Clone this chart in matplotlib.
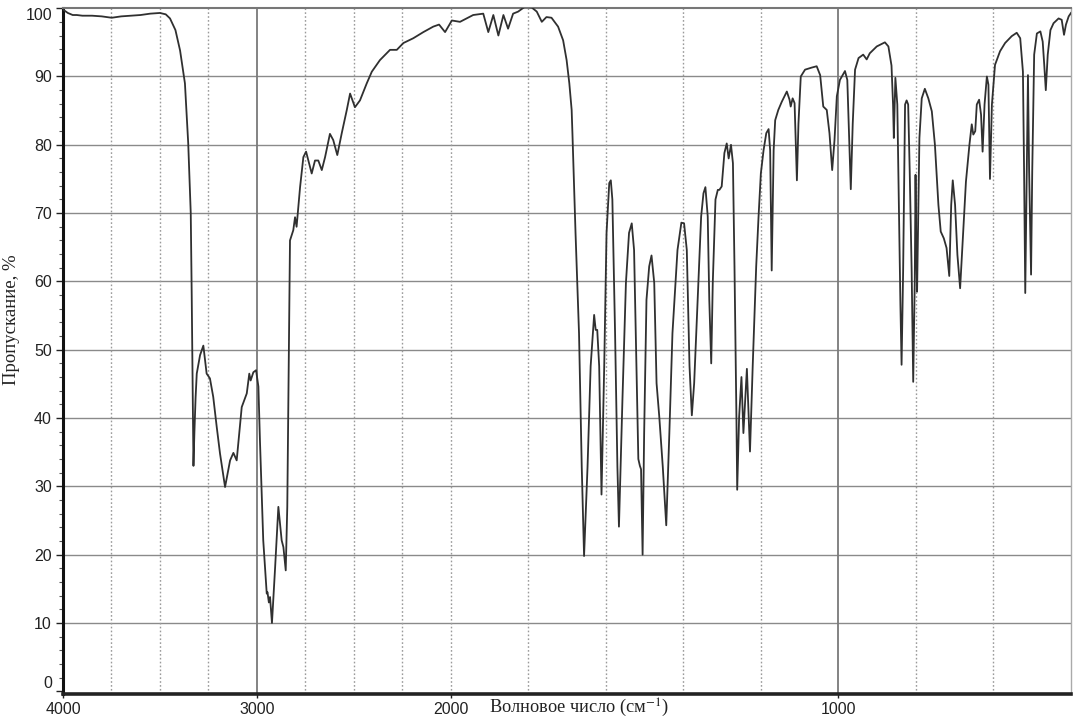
import numpy as np
import matplotlib
matplotlib.use("Agg")
import matplotlib.pyplot as plt

plt.rcParams['mathtext.fontset'] = 'stix'

# ---- data ----
wavenumber = [
    4000, 3975, 3950, 3929, 3900, 3850, 3800, 3749, 3700, 3650, 3600, 3550, 3500,
    3470, 3448, 3420, 3396, 3371, 3354, 3341, 3336, 3331, 3327, 3322, 3316, 3310,
    3293, 3276, 3259, 3242, 3225, 3207, 3190, 3164, 3138, 3121, 3104, 3078, 3052,
    3039, 3032, 3018, 3004, 2992, 2984, 2967, 2949, 2945, 2938, 2932, 2922, 2906,
    2889, 2872, 2863, 2851, 2843, 2835, 2829, 2812, 2803, 2795, 2777, 2760, 2746,
    2734, 2717, 2700, 2683, 2665, 2648, 2623, 2606, 2585, 2562, 2536, 2519, 2494,
    2468, 2433, 2407, 2365, 2313, 2278, 2244, 2193, 2141, 2090, 2060, 2029, 1997,
    1976, 1942, 1916, 1903, 1890, 1877, 1864, 1852, 1839, 1826, 1809, 1791, 1778,
    1765, 1753, 1740, 1723, 1710, 1701, 1694, 1688, 1686, 1678, 1669, 1662, 1656,
    1647, 1639, 1630, 1626, 1622, 1617, 1611, 1604, 1598, 1591, 1587, 1583, 1576,
    1570, 1566, 1557, 1548, 1540, 1533, 1527, 1521, 1516, 1512, 1509, 1505, 1501,
    1495, 1488, 1482, 1475, 1469, 1462, 1453, 1444, 1436, 1428, 1415, 1405, 1398,
    1391, 1384, 1378, 1372, 1363, 1354, 1348, 1343, 1337, 1333, 1328, 1324, 1317,
    1311, 1307, 1301, 1294, 1288, 1283, 1277, 1272, 1268, 1263, 1261, 1256, 1250,
    1245, 1236, 1228, 1221, 1212, 1206, 1200, 1193, 1186, 1180, 1176, 1172, 1167,
    1163, 1155, 1146, 1133, 1126, 1123, 1118, 1113, 1107, 1103, 1097, 1086, 1069,
    1056, 1047, 1039, 1030, 1023, 1016, 1010, 1004, 996, 983, 977, 972, 968, 963,
    957, 948, 936, 927, 919, 901, 880, 871, 863, 859, 857, 853, 848, 844, 840, 837,
    833, 828, 824, 820, 816, 811, 807, 803, 801, 799, 797, 794, 791, 785, 777, 768,
    759, 751, 742, 736, 728, 721, 714, 709, 705, 699, 693, 686, 679, 671, 662, 656,
    652, 647, 643, 637, 632, 628, 623, 617, 613, 609, 604, 596, 583, 570, 553, 540,
    531, 524, 521, 518, 514, 511, 508, 503, 500, 495, 488, 479, 473, 469, 465, 460,
    453, 445, 432, 424, 418, 413, 406, 400,
]
transmittance = [
    99.8, 99.3, 99.0, 99.0, 98.9, 98.9, 98.8, 98.6, 98.8, 98.9, 99.0, 99.2, 99.3,
    99.1, 98.5, 96.8, 93.8, 89.0, 80.2, 70.0, 58.0, 44.0, 33.0, 38.0, 43.0, 46.5,
    49.2, 50.6, 46.5, 45.8, 43.1, 38.7, 34.8, 29.9, 33.8, 34.9, 33.8, 41.6, 43.6,
    46.5, 45.5, 46.7, 47.0, 44.6, 36.7, 22.1, 14.3, 14.5, 13.0, 13.8, 10.0, 18.0,
    27.0, 22.1, 21.1, 17.7, 27.0, 50.0, 66.0, 67.5, 69.4, 68.0, 73.8, 78.2, 79.0,
    77.7, 75.8, 77.7, 77.7, 76.3, 78.2, 81.6, 80.7, 78.5, 81.7, 85.1, 87.5, 85.5,
    86.5, 89.0, 90.7, 92.4, 93.9, 93.9, 94.9, 95.6, 96.5, 97.3, 97.6, 96.5, 98.2,
    98.0, 99.0, 99.2, 96.5, 99.0, 96.0, 99.0, 97.0, 99.2, 99.5, 100.2, 100.1, 99.5,
    98.0, 98.7, 98.6, 97.3, 95.3, 92.4, 89.0, 85.1, 81.7, 67.1, 52.4, 32.9, 19.8,
    32.9, 47.6, 55.1, 52.9, 52.9, 47.6, 28.8, 47.6, 67.1, 74.4, 74.8, 72.0, 52.4,
    32.9, 24.1, 42.7, 59.8, 67.1, 68.5, 64.6, 47.6, 34.0, 33.0, 32.5, 20.0, 37.8,
    57.3, 62.2, 63.8, 59.8, 45.1, 40.2, 32.9, 24.3, 37.8, 52.4, 64.6, 68.6, 68.5,
    64.6, 47.6, 40.4, 45.1, 57.3, 69.5, 72.9, 73.8, 69.5, 57.3, 48.0, 59.8, 72.0,
    73.4, 73.4, 73.9, 78.8, 80.2, 78.0, 80.0, 77.3, 62.2, 40.2, 29.5, 40.2, 46.0,
    37.8, 47.2, 35.1, 47.6, 62.2, 69.4, 75.8, 79.2, 81.7, 82.3, 79.2, 61.6, 79.2,
    83.6, 85.1, 86.3, 87.8, 86.6, 85.6, 86.8, 86.1, 74.8, 83.1, 90.0, 91.0, 91.3,
    91.5, 90.2, 85.6, 85.1, 81.7, 76.3, 80.7, 87.1, 89.5, 90.8, 89.5, 80.7, 73.5, 83.1,
    91.0, 92.7, 93.2, 92.5, 93.4, 94.4, 95.0, 94.4, 91.6, 85.9, 81.0, 89.8, 85.9, 71.2, 56.6, 47.8,
    61.5, 85.9, 86.5, 85.9, 76.1, 61.5, 45.3, 60.0, 75.6, 65.0, 58.5, 70.0, 81.0, 86.8, 88.2, 86.8,
    84.9, 80.0, 71.2, 67.3, 66.3, 64.9, 60.8, 71.2, 74.8, 71.2, 63.9, 59.0, 66.3, 74.6, 80.0, 83.0,
    81.5, 82.0, 85.9, 86.6, 84.4, 79.0, 85.9, 90.0, 88.8, 75.0, 85.9, 91.7, 93.7, 94.9, 95.9, 96.4,
    95.6, 90.7, 76.1, 58.3, 76.1, 90.2, 76.1, 61.0, 76.1, 93.2, 96.3, 96.6, 95.1, 91.7, 88.0, 93.2,
    96.8, 97.8, 98.5, 98.3, 96.1, 97.6, 98.8, 99.3,
]
x_tick_values = [4000, 3000, 2000, 1000]
y_tick_values = list(range(0, 101, 10))
grid_dotted = [3750, 3500, 3250, 2750, 2500, 2250, 2000, 1800, 1600, 1400, 1200, 800, 600]
grid_solid = [3000, 1000]

x_label = 'Волновое число (см$^{-1}$)'
y_label = 'Пропускание, %'


# piecewise x scale: 2000-400 cm-1 is drawn at twice the density of 4000-2000
def fwd(x):
    x = np.asarray(x, dtype=float)
    return np.where(x >= 2000, x, 2.0 * x - 2000.0)


def inv(y):
    y = np.asarray(y, dtype=float)
    return np.where(y >= 2000, y, (y + 2000.0) / 2.0)


fig = plt.figure(figsize=(10.78, 7.2), dpi=100)
ax = fig.add_axes([63 / 1078, 1 - 694 / 720, (1071 - 63) / 1078, (694 - 7.5) / 720])
ax.set_xscale('function', functions=(fwd, inv))
ax.set_xlim(4000, 400)
ax.set_ylim(-0.4, 100.1)

# grid
for v in y_tick_values[1:-1]:
    ax.axhline(v, color='#8a8a8a', lw=1.0, zorder=1)
for v in grid_dotted:
    ax.axvline(v, color='#9a9a9a', lw=1.0, ls=(0, (1.2, 1.6)), zorder=1)
for v in grid_solid:
    ax.axvline(v, color='#7a7a7a', lw=1.3, zorder=1)

ax.plot(wavenumber, transmittance, color='#303030', lw=1.3, zorder=3,
        solid_joinstyle='round')

# ticks
ax.set_xticks(x_tick_values)
ax.set_xticklabels([str(v) for v in x_tick_values], family='Liberation Sans', fontsize=11.5)
ax.set_yticks(y_tick_values)
ax.set_yticklabels([str(v) for v in y_tick_values], family='Liberation Sans', fontsize=11.5)
ax.set_yticks(list(range(0, 101, 2)), minor=True)
ax.xaxis.set_minor_locator(matplotlib.ticker.NullLocator())
ax.tick_params(axis='y', which='major', direction='out', length=5, width=1, pad=3, colors='#222222')
ax.tick_params(axis='y', which='minor', direction='out', length=3, width=0.8, color='#555555')
ax.tick_params(axis='x', which='major', direction='out', length=3, width=1, pad=3, colors='#222222')

yt = ax.yaxis.get_major_ticks()
yt[0].label1.set_va('bottom')
yt[-1].label1.set_va('top')

# spines
ax.spines['left'].set_linewidth(2.2)
ax.spines['left'].set_color('#111111')
ax.spines['bottom'].set_linewidth(2.6)
ax.spines['bottom'].set_color('#222222')
ax.spines['top'].set_linewidth(1.5)
ax.spines['top'].set_color('#777777')
ax.spines['right'].set_linewidth(1.0)
ax.spines['right'].set_color('#aaaaaa')

ax.set_xlabel(x_label, family='Liberation Serif', fontsize=13.2, color='#222222')
ax.xaxis.set_label_coords(0.512, -0.0045)
ax.xaxis.label.set_va('top')
ax.set_ylabel(y_label, family='Liberation Serif', fontsize=13.5, color='#222222')
ax.yaxis.set_label_coords(-0.0506, 0.545)
ax.yaxis.label.set_va('center')

fig.savefig('out.png', dpi=100)
